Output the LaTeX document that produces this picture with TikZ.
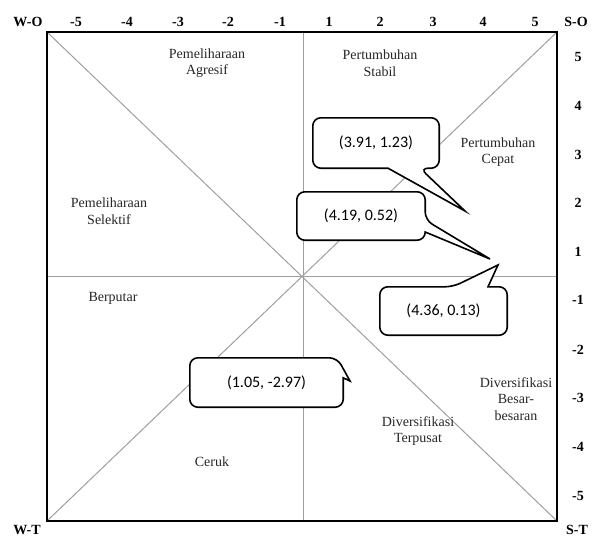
\documentclass[tikz,border=0pt]{standalone}
\usepackage{fontspec}
\setmainfont{Liberation Serif}
\newfontfamily\calloutfont{Carlito}

\begin{document}
\begin{tikzpicture}[x=1pt, y=-1pt, every node/.style={font=\fontsize{14}{16}\selectfont},
	ax/.style={font=\fontsize{14}{16}\selectfont\bfseries, inner sep=0pt},
	lab/.style={align=center, text=black!85, inner sep=0pt, font=\fontsize{14}{16.5}\selectfont},
	cbox/.style={inner sep=0pt, minimum height=48pt, font=\calloutfont\fontsize{16}{18}\selectfont},
	call/.style={draw, line width=1.6pt, fill=white}]
	\useasboundingbox (0,0) rectangle (592,538);
	% frame and quadrant lines
	\coordinate (NW) at (47,32);
	\coordinate (NE) at (557,32);
	\coordinate (SW) at (47,521);
	\coordinate (SE) at (557,521);
	\coordinate (T) at (303,32);
	\coordinate (B) at (303,521);
	\coordinate (L) at (47,276);
	\coordinate (R) at (557,276);
	\foreach \a/\b in {NW/SE, NE/SW, T/B, L/R} {\draw[gray!75, line width=1pt] (\a) -- (\b);}
	\draw[line width=2pt] (NW) rectangle (SE);
	% axis labels
	\foreach \v/\x in {-5/76, -4/127, -3/178, -2/228, -1/280, 1/329, 2/380, 3/433, 4/483, 5/535} {\node[ax] (t\v) at (\x,22) {\v};}
	\foreach \v/\y in {5/57, 4/106, 3/155, 2/203, 1/252, -1/300, -2/350, -3/398, -4/447, -5/496} {\node[ax] (r\v) at (578,\y) {\v};}
	\node[ax] (wo) at (28,22) {W-O};
	\node[ax] (so) at (576,22) {S-O};
	\node[ax] (wt) at (27,530) {W-T};
	\node[ax] (st) at (577,530) {S-T};
	% strategy areas
	\node[lab] (agresif) at (207,63) {Pemeliharaan\\Agresif};
	\node[lab] (stabil) at (380,63) {Pertumbuhan\\Stabil};
	\node[lab] (cepat) at (498,152) {Pertumbuhan\\Cepat};
	\node[lab] (selektif) at (109,211) {Pemeliharaan\\Selektif};
	\node[lab] (berputar) at (113,298) {Berputar};
	\node[lab] (besar) at (516,399) {Diversifikasi\\Besar-\\besaran};
	\node[lab] (terpusat) at (418,431) {Diversifikasi\\Terpusat};
	\node[lab] (ceruk) at (212,462) {Ceruk};
	% callouts
	\node[cbox, minimum width=126pt, minimum height=50pt] (c1) at (376,143) {(3.91, 1.23)};
	\coordinate (p1) at (465,211);
	\draw[call] (c1.north) [rounded corners=8pt] -- (c1.north east) -- (c1.south east) -- ([xshift=44pt]c1.south) [sharp corners] -- (p1) -- ([xshift=12pt]c1.south) [rounded corners=8pt] -- (c1.south west) -- (c1.north west) -- cycle;
	\node[cbox] at (c1) {(3.91, 1.23)};

	\node[cbox, minimum width=128pt] (c2) at (361,216) {(4.19, 0.52)};
	\coordinate (p2) at (490,259);
	\draw[call] (c2.north) [rounded corners=8pt] -- (c2.north east) -- ([yshift=-4pt]c2.east) [sharp corners] -- (p2) -- ([yshift=-16pt]c2.east) [rounded corners=8pt] -- (c2.south east) -- (c2.south west) -- (c2.north west) -- cycle;
	\node[cbox] at (c2) {(4.19, 0.52)};

	\node[cbox, minimum width=127pt] (c3) at (443.5,311) {(4.36, 0.13)};
	\coordinate (p3) at (498,265);
	\draw[call] (c3.west) [rounded corners=8pt] -- (c3.north west) -- ([xshift=9.5pt]c3.north) [sharp corners] -- (p3) -- ([xshift=44.5pt]c3.north) [rounded corners=8pt] -- (c3.north east) -- (c3.south east) -- (c3.south west) -- cycle;
	\node[cbox] at (c3) {(4.36, 0.13)};

	\node[cbox, minimum width=153pt, minimum height=49pt] (c4) at (266.5,382.5) {(1.05, -2.97)};
	\coordinate (p4) at (350,381);
	\draw[call] (c4.west) [rounded corners=8pt] -- (c4.north west) -- ([xshift=-6pt]c4.north east) [sharp corners] -- (p4) -- ([yshift=-20pt]c4.north east) [rounded corners=8pt] -- (c4.south east) -- (c4.south west) -- cycle;
	\node[cbox] at (c4) {(1.05, -2.97)};
\end{tikzpicture}
\end{document}
